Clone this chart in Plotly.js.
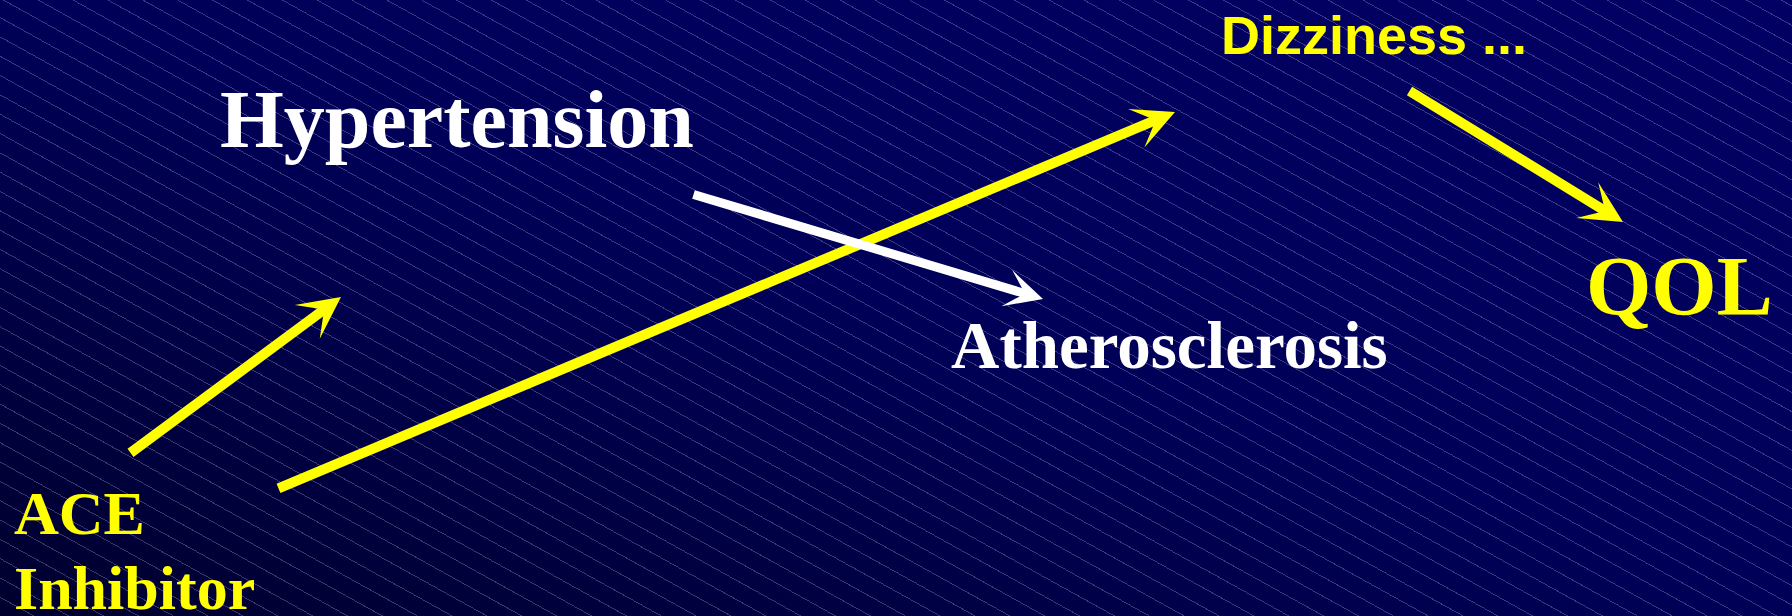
<!DOCTYPE html>
<html>
<head>
<meta charset="utf-8">
<script src="https://cdn.plot.ly/plotly-3.0.1.min.js"></script>
<style>
  html, body { margin: 0; padding: 0; background: #000050; }
  #chart {
    width: 1792px; height: 616px;
    background:
      repeating-linear-gradient(29deg,
        rgba(190,190,225,0) 0px, rgba(190,190,225,0) 16.0px,
        rgba(190,190,225,0.30) 16.0px, rgba(190,190,225,0.30) 16.9px),
      linear-gradient(to top right, #00002e 0%, #000058 50%, #020064 100%);
  }
</style>
</head>
<body>
<div id="chart"></div>
<script>
// ---- diagram data (pixel-space axes: x 0..1792, y 0..616 top-down) ----
var labelTexts  = ["Hypertension", "Atherosclerosis", "ACE", "Inhibitor", "Dizziness ...", "QOL"];
var labelX      = [218, 949, 12, 12, 1219, 1584];
var labelY      = [119, 345, 513, 588, 35, 286];
var labelSizes  = [82, 67, 62, 62, 54, 84];
var labelColors = ["#ffffff", "#ffffff", "#ffff00", "#ffff00", "#ffff00", "#ffff00"];
var labelFonts  = ["Liberation Serif", "Liberation Serif", "Liberation Serif", "Liberation Serif", "Liberation Sans", "Liberation Serif"];

var arrowTailX  = [129, 277, 692, 1408];
var arrowTailY  = [454, 489, 194, 90];
var arrowTipX   = [341, 1175, 1043, 1623];
var arrowTipY   = [297, 112, 299, 222];
var arrowColors = ["#ffff00", "#ffff00", "#ffffff", "#ffff00"];
var arrowWidths = [10, 10, 9, 10];

var annotations = [];
for (var i = 0; i < arrowTailX.length; i++) {
  annotations.push({
    xref: 'x', yref: 'y', axref: 'x', ayref: 'y',
    x: arrowTipX[i], y: arrowTipY[i],
    ax: arrowTailX[i], ay: arrowTailY[i],
    text: '', showarrow: true,
    arrowhead: 3, arrowsize: 0.7, arrowwidth: arrowWidths[i],
    arrowcolor: arrowColors[i], standoff: 0
  });
}
for (var j = 0; j < labelTexts.length; j++) {
  annotations.push({
    xref: 'x', yref: 'y',
    x: labelX[j], y: labelY[j],
    xanchor: 'left', yanchor: 'middle',
    text: '<b>' + labelTexts[j] + '</b>',
    showarrow: false,
    font: { family: labelFonts[j], size: labelSizes[j], color: labelColors[j] }
  });
}

var layout = {
  width: 1792, height: 616,
  margin: { l: 0, r: 0, t: 0, b: 0, pad: 0 },
  paper_bgcolor: 'rgba(0,0,0,0)',
  plot_bgcolor: 'rgba(0,0,0,0)',
  showlegend: false,
  xaxis: { range: [0, 1792], visible: false, fixedrange: true },
  yaxis: { range: [616, 0], visible: false, fixedrange: true },
  annotations: annotations
};

Plotly.newPlot('chart', [], layout, { staticPlot: true, displayModeBar: false });
</script>
</body>
</html>
